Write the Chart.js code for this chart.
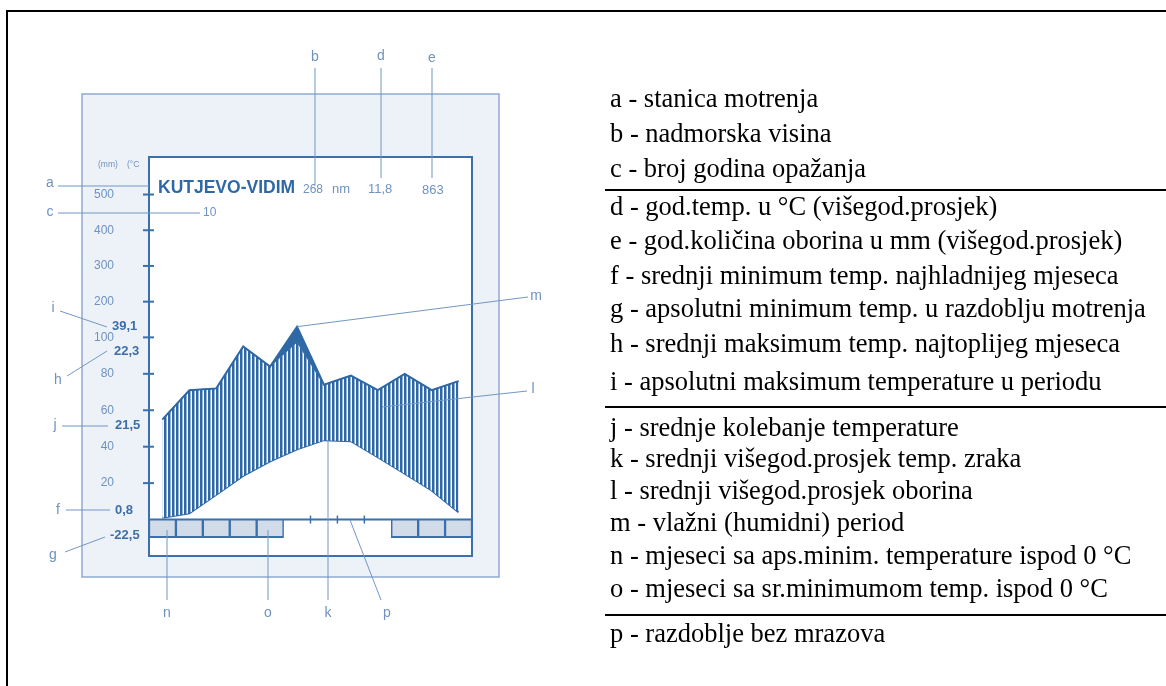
<!DOCTYPE html>
<html>
<head>
<meta charset="utf-8">
<title>Klimadijagram Kutjevo-Vidim</title>
<script src="https://cdn.jsdelivr.net/npm/chart.js"></script>
<style>
  body { margin: 0; background: #fff; width: 1166px; height: 686px; position: relative; overflow: hidden; }
  #frame { position: absolute; left: 6px; top: 10px; width: 1200px; height: 700px; border-left: 2px solid #000; border-top: 2px solid #000; }
  #climate { position: absolute; left: 0; top: 0; }
  .row { position: absolute; left: 610px; font-family: "Liberation Serif", "Times New Roman", serif; font-size: 26.5px; line-height: 30px; color: #000; white-space: nowrap; }
  .sep { position: absolute; left: 605px; width: 561px; height: 0; border-top: 2px solid #000; }
</style>
</head>
<body>
<div id="frame"></div>
<canvas id="climate" width="1166" height="686"></canvas>

<div class="row" style="top:83px">a - stanica motrenja</div>
<div class="row" style="top:118px">b - nadmorska visina</div>
<div class="row" style="top:153px">c - broj godina opažanja</div>
<div class="sep" style="top:189px"></div>
<div class="row" style="top:191px">d - god.temp. u °C (višegod.prosjek)</div>
<div class="row" style="top:225px">e - god.količina oborina u mm (višegod.prosjek)</div>
<div class="row" style="top:260px">f - srednji minimum temp. najhladnijeg mjeseca</div>
<div class="row" style="top:293px">g - apsolutni minimum temp. u razdoblju motrenja</div>
<div class="row" style="top:328px">h - srednji maksimum temp. najtoplijeg mjeseca</div>
<div class="row" style="top:366px">i - apsolutni maksimum temperature u periodu</div>
<div class="sep" style="top:406px"></div>
<div class="row" style="top:412px">j - srednje kolebanje temperature</div>
<div class="row" style="top:443px">k - srednji višegod.prosjek temp. zraka</div>
<div class="row" style="top:475px">l - srednji višegod.prosjek oborina</div>
<div class="row" style="top:507px">m - vlažni (humidni) period</div>
<div class="row" style="top:540px">n - mjeseci sa aps.minim. temperature ispod 0 °C</div>
<div class="row" style="top:573px">o - mjeseci sa sr.minimumom temp. ispod 0 °C</div>
<div class="sep" style="top:614px"></div>
<div class="row" style="top:618px">p - razdoblje bez mrazova</div>

<script>
  // monthly values, Jan..Dec
  const months = ["I", "II", "III", "IV", "V", "VI", "VII", "VIII", "IX", "X", "XI", "XII"];
  const precipMm = [55, 71, 72, 95, 84, 130, 74, 79, 71, 80, 71, 76];
  const precipInnerMm = [55, 71, 72, 95, 84, 97.5, 74, 79, 71, 80, 71, 76];
  const tempC = [0.5, 1.7, 6.8, 12.0, 16.0, 19.3, 21.8, 21.5, 17.1, 12.6, 8.0, 2.0];
  const frostMonths = [1, 1, 1, 1, 1, 0, 0, 0, 0, 1, 1, 1];
  const mmTicks = [20, 40, 60, 80, 100, 200, 300, 400, 500];

  const DARK = "#2e68a5";
  const BOX = "#3a70ac";
  const LIGHT = "#6f92c0";
  const BOLD = "#3d6ea8";
  const ABOVE_100 = 0.196;   // reduced scale above 100 mm
  const FROST_DEPTH = -9.9;  // height of the frost strip, axis units

  function toAxis(mm) {
    return mm <= 100 ? mm : 100 + (mm - 100) * ABOVE_100;
  }

  const canvas = document.getElementById("climate");
  const ctx = canvas.getContext("2d");

  // vertical hatching for the humid area
  const pc = document.createElement("canvas");
  pc.width = 4; pc.height = 4;
  const pctx = pc.getContext("2d");
  pctx.fillStyle = "#fff";
  pctx.fillRect(0, 0, 4, 4);
  pctx.fillStyle = DARK;
  pctx.fillRect(0, 0, 2.5, 4);
  const hatch = ctx.createPattern(pc, "repeat");

  function line(c, x1, y1, x2, y2) {
    c.beginPath(); c.moveTo(x1, y1); c.lineTo(x2, y2); c.stroke();
  }

  const decor = {
    id: "decor",
    beforeDraw(chart) {
      const c = chart.ctx, a = chart.chartArea;
      c.save();
      c.fillStyle = "#edf1f8";
      c.fillRect(82, 94, 417, 483);
      c.strokeStyle = "#8eaad0";
      c.lineWidth = 1.5;
      c.strokeRect(82, 94, 417, 483);
      c.fillStyle = "#fff";
      c.fillRect(a.left, a.top, a.right - a.left, a.bottom - a.top);
      c.restore();
    },
    afterDatasetsDraw(chart) {
      const c = chart.ctx, a = chart.chartArea;
      const x = chart.scales.x, y = chart.scales.y, yT = chart.scales.yT;
      const y0 = y.getPixelForValue(0);
      const half = (x.getPixelForValue(1) - x.getPixelForValue(0)) / 2;
      c.save();
      // inner box
      c.strokeStyle = BOX;
      c.lineWidth = 2;
      c.strokeRect(a.left, a.top, a.right - a.left, a.bottom - a.top);
      // axis ticks crossing the left edge
      mmTicks.forEach(v => {
        const py = y.getPixelForValue(toAxis(v));
        line(c, a.left - 6, py, a.left + 5, py);
      });
      // base line and month ticks
      line(c, a.left, y0, a.right, y0);
      c.lineWidth = 1.5;
      for (let i = 1; i < months.length; i++) {
        if (frostMonths[i - 1] || frostMonths[i]) continue;
        const px = x.getPixelForValue(i) - half;
        line(c, px, y0 - 4, px, y0 + 4);
      }

      // leader lines
      c.strokeStyle = "#7397c4";
      c.lineWidth = 1;
      const peakX = x.getPixelForValue(5), peakY = y.getPixelForValue(toAxis(precipMm[5]));
      const kY = yT.getPixelForValue(tempC[6]);
      [
        [58, 186, 149, 186], [58, 213, 200, 213], [60, 311, 107, 327], [67, 376, 107, 351],
        [62, 426, 108, 426], [66, 510, 110, 510], [65, 552, 105, 537],
        [315, 68, 315, 185], [381, 68, 381, 178], [432, 68, 432, 178],
        [peakX, peakY, 528, 297], [382, 407, 527, 391],
        [167, 530, 167, 600], [268, 530, 268, 600], [328, kY, 328, 600], [350, 520, 381, 600]
      ].forEach(l => line(c, l[0], l[1], l[2], l[3]));

      c.textBaseline = "middle";
      c.textAlign = "center";
      c.fillStyle = LIGHT;
      c.font = '14px "Liberation Sans", Arial, sans-serif';
      [["a", 50, 183], ["c", 50, 212], ["i", 53, 308], ["h", 58, 380], ["j", 55, 425], ["f", 58, 510],
       ["g", 53, 555], ["b", 315, 57], ["d", 381, 56], ["e", 432, 58], ["m", 536, 296], ["l", 533, 389],
       ["n", 167, 613], ["o", 268, 613], ["k", 328, 613], ["p", 387, 613]
      ].forEach(t => c.fillText(t[0], t[1], t[2]));

      c.textAlign = "left";
      c.font = '8.5px "Liberation Sans", Arial, sans-serif';
      c.fillText("(mm)", 98, 165);
      c.fillText("(°C", 127, 165);
      c.font = '12px "Liberation Sans", Arial, sans-serif';
      c.fillText("10", 203, 213);
      c.fillText("268", 303, 190);
      c.font = '13px "Liberation Sans", Arial, sans-serif';
      c.fillText("nm", 332, 189);
      c.fillText("11,8", 368, 189);
      c.fillText("863", 422, 190);

      c.fillStyle = DARK;
      c.font = 'bold 17.5px "Liberation Sans", Arial, sans-serif';
      c.fillText("KUTJEVO-VIDIM", 158, 188);

      c.fillStyle = BOLD;
      c.font = 'bold 13px "Liberation Sans", Arial, sans-serif';
      c.fillText("39,1", 112, 326);
      c.fillText("22,3", 114, 351);
      c.fillText("21,5", 115, 425);
      c.fillText("0,8", 115, 510);
      c.fillText("-22,5", 110, 535);
      c.restore();
    }
  };

  const chart = new Chart(ctx, {
    type: "line",
    data: {
      labels: months,
      datasets: [
        {
          label: "Oborine",
          data: precipMm.map(toAxis),
          yAxisID: "y",
          borderColor: DARK,
          borderWidth: 2,
          pointRadius: 0,
          tension: 0,
          fill: "+1",
          backgroundColor: DARK
        },
        {
          label: "Oborine (unutarnja)",
          data: precipInnerMm.map(toAxis),
          yAxisID: "y",
          borderColor: DARK,
          borderWidth: 1,
          pointRadius: 0,
          tension: 0,
          fill: "+1",
          backgroundColor: hatch
        },
        {
          label: "Temperatura",
          data: tempC,
          yAxisID: "yT",
          borderColor: DARK,
          borderWidth: 2,
          pointRadius: 0,
          tension: 0,
          fill: false
        },
        {
          type: "bar",
          label: "Mraz",
          data: frostMonths.map(f => f ? [FROST_DEPTH, 0] : null),
          yAxisID: "y",
          backgroundColor: "#d2dbe8",
          borderColor: BOX,
          borderWidth: { left: 1.5, right: 1.5, top: 0, bottom: 2 },
          borderSkipped: false,
          barPercentage: 1,
          categoryPercentage: 1
        }
      ]
    },
    options: {
      responsive: false,
      animation: false,
      devicePixelRatio: 1,
      layout: { padding: { left: 82, top: 157, right: 694, bottom: 130 } },
      plugins: { legend: { display: false }, tooltip: { enabled: false } },
      scales: {
        x: { display: false, offset: true },
        y: {
          min: -20,
          max: 199,
          afterFit: scale => { scale.width = 67; },
          afterBuildTicks: scale => { scale.ticks = mmTicks.map(v => ({ value: toAxis(v) })); },
          grid: { display: false, drawTicks: false },
          border: { display: false },
          ticks: {
            padding: 35,
            color: LIGHT,
            font: { family: "Liberation Sans", size: 12 },
            callback: (value, index) => mmTicks[index]
          }
        },
        yT: { display: false, min: -10, max: 99.5 }
      }
    },
    plugins: [decor]
  });
</script>
</body>
</html>
